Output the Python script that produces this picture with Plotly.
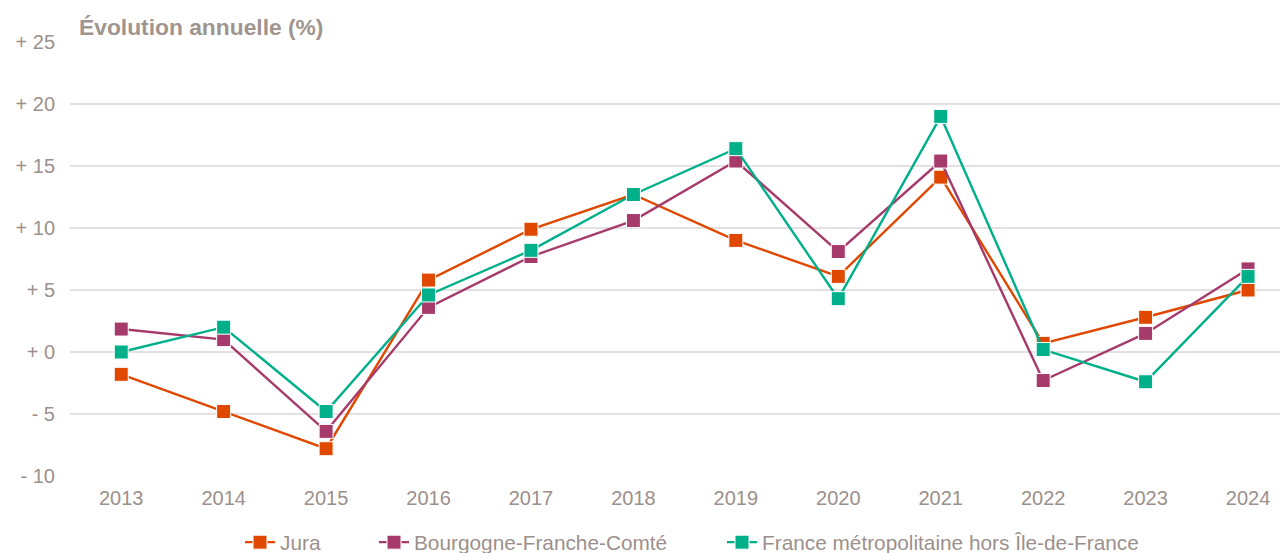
import plotly.graph_objects as go

years = [2013, 2014, 2015, 2016, 2017, 2018, 2019, 2020, 2021, 2022, 2023, 2024]
jura = [-1.8, -4.8, -7.8, 5.8, 9.9, 12.7, 9.0, 6.1, 14.1, 0.7, 2.8, 5.0]
bfc = [1.85, 1.0, -6.4, 3.6, 7.7, 10.6, 15.4, 8.1, 15.4, -2.3, 1.5, 6.7]
france = [0.0, 2.0, -4.8, 4.6, 8.2, 12.7, 16.4, 4.3, 19.0, 0.2, -2.4, 6.1]
names = ["Jura", "Bourgogne-Franche-Comté", "France métropolitaine hors Île-de-France"]
colors = ["#E04800", "#A63A6A", "#00B08A"]
ytickvals = [25, 20, 15, 10, 5, 0, -5, -10]
yticktext = ["+ 25", "+ 20", "+ 15", "+ 10", "+ 5", "+ 0", "- 5", "- 10"]

W, H = 1280, 545  # page has an 8px body margin
txt = "#9c908c"
legend_ids = ["legend", "legend2", "legend3"]
legend_x = [232, 366, 714]

fig = go.Figure()
for name, vals, col, lg in zip(names, [jura, bfc, france], colors, legend_ids):
    fig.add_trace(go.Scatter(
        x=years, y=vals, name=name, mode="lines+markers", legend=lg,
        line=dict(color=col, width=2.4),
        marker=dict(symbol="square", size=14, color=col, line=dict(color="white", width=1)),
    ))

fig.add_shape(type="line", xref="paper", x0=0, x1=1, yref="y", y0=0, y1=0,
              line=dict(color="#6e6462", width=1.5, dash="dash"), layer="between")

legend_common = dict(orientation="h", xanchor="left", xref="container",
                     y=0.019, yanchor="middle", yref="container",
                     font=dict(size=20.8, color=txt), bgcolor="rgba(0,0,0,0)")
layout_legends = {lg: dict(x=lx / W, **legend_common) for lg, lx in zip(legend_ids, legend_x)}

fig.update_layout(
    width=W, height=H,
    margin=dict(l=62, r=0, t=34, b=77, autoexpand=False),
    paper_bgcolor="white", plot_bgcolor="white",
    font=dict(family="Liberation Sans, Arial, sans-serif", size=20, color=txt),
    showlegend=True,
    annotations=[dict(text="<b>Évolution annuelle (%)</b>", xref="paper", yref="paper",
                      x=0.006, y=1.0, xanchor="left", yanchor="bottom", showarrow=False,
                      font=dict(size=22.8, color="#a0948f"))],
    **layout_legends,
)
fig.update_xaxes(range=[2012.5, 2024.39], tickvals=years, ticktext=[str(y) for y in years],
                 showgrid=False, zeroline=False, showline=False, ticks="", automargin=False,
                 tickfont=dict(size=20, color=txt), ticklabelstandoff=8)
fig.update_yaxes(range=[-10, 25], tickvals=ytickvals, ticktext=yticktext,
                 showgrid=True, gridcolor="#e6e1e1", gridwidth=1.5, zeroline=False,
                 showline=False, ticks="", automargin=False,
                 tickfont=dict(size=20, color=txt), ticklabelstandoff=14)

fig.write_html("out.html")
